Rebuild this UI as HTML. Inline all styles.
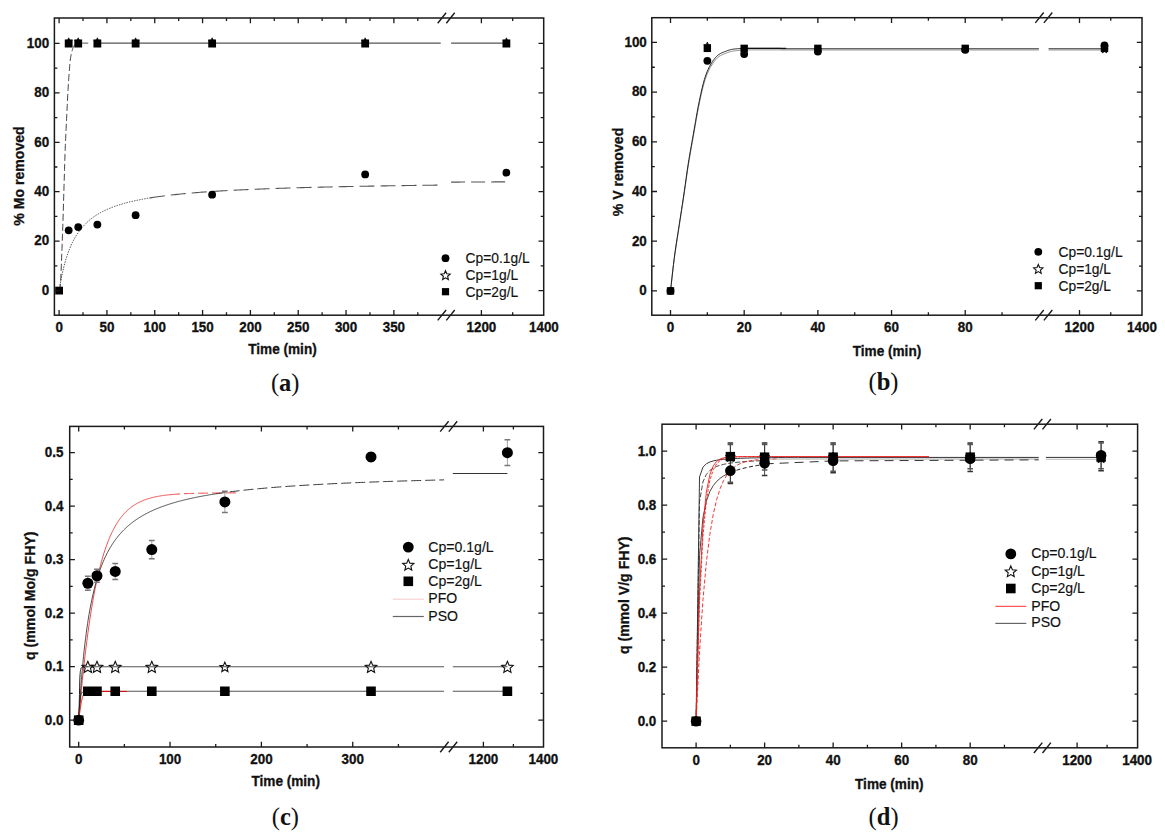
<!DOCTYPE html><html><head><meta charset="utf-8"><title>Kinetics</title><style>
html,body{margin:0;padding:0;background:#fff;width:1165px;height:838px;overflow:hidden}
svg{display:block}
.tl{font-family:"Liberation Sans",sans-serif;font-weight:bold;font-size:13.4px;fill:#111;stroke:#111;stroke-width:0.3px}
.at{font-family:"Liberation Sans",sans-serif;font-weight:bold;font-size:13.6px;fill:#111;stroke:#111;stroke-width:0.3px}
.yt{font-family:"Liberation Sans",sans-serif;font-weight:bold;font-size:14.1px;fill:#111;stroke:#111;stroke-width:0.3px}
.lg{font-family:"Liberation Sans",sans-serif;font-size:13.6px;fill:#111;stroke:#111;stroke-width:0.15px}
.cap{font-family:"Liberation Serif",serif;font-size:24.5px;fill:#111}
</style></head><body>
<svg width="1165" height="838" viewBox="0 0 1165 838">
<rect width="1165" height="838" fill="#fff"/>
<path d="M59.1 290.6 L59.26 289.78 L59.42 289.17 L59.58 288.67 L59.74 288.2 L59.9 287.64 L60.06 286.92 L60.22 285.93 L60.38 284.58 L60.53 282.79 L60.69 280.44 L60.85 277.45 L61.01 273.93 L61.17 270 L61.33 265.81 L61.49 261.48 L61.65 257.14 L61.81 252.94 L61.97 248.76 L62.13 244.52 L62.29 240.21 L62.45 235.82 L62.61 231.33 L62.77 226.74 L62.93 222.04 L63.09 217.2 L63.24 212.16 L63.4 206.94 L63.56 201.61 L63.72 196.23 L63.88 190.87 L64.04 185.59 L64.2 180.35 L64.36 174.99 L64.52 169.6 L64.68 164.3 L64.84 159.16 L65 154.31 L65.16 149.82 L65.32 145.76 L65.48 142.03 L65.64 138.55 L65.8 135.19 L65.95 131.88 L66.11 128.5 L66.27 125.13 L66.43 121.84 L66.59 118.59 L66.75 115.38 L66.91 112.17 L67.07 108.96 L67.23 105.71 L67.39 102.39 L67.55 99.07 L67.71 95.82 L67.87 92.7 L68.03 89.81 L68.19 87.11 L68.35 84.57 L68.51 82.14 L68.67 79.82 L68.82 77.56 L68.98 75.34 L69.14 73.12 L69.3 70.91 L69.46 68.75 L69.62 66.69 L69.78 64.75 L69.94 62.99 L70.1 61.45 L70.26 60.09 L70.42 58.88 L70.58 57.8 L70.74 56.83 L70.9 55.95 L71.06 55.16 L71.22 54.43 L71.38 53.74 L71.53 53.09 L71.69 52.45 L71.85 51.82 L72.01 51.18 L72.17 50.57 L72.33 50.01 L72.49 49.49 L72.65 49 L72.81 48.54 L72.97 48.11 L73.13 47.71 L73.29 47.34 L73.45 46.99 L73.61 46.66 L73.77 46.34 L73.93 46.04 L74.09 45.76 L74.24 45.51 L74.4 45.28 L74.56 45.08 L74.72 44.91 L74.88 44.76 L75.04 44.63 L75.2 44.51 L75.36 44.41 L75.52 44.31 L75.68 44.23 L75.84 44.14 L76 44.06 L76.16 43.98 L76.32 43.89 L76.48 43.81 L76.64 43.75 L76.8 43.69 L76.95 43.64 L77.11 43.61 L77.27 43.58 L77.43 43.55 L77.59 43.52 L77.75 43.5 L77.91 43.47 L78.07 43.44 L78.23 43.4" fill="none" stroke="#444" stroke-width="1" stroke-dasharray="7 3"/>
<path d="M78.23 43.15 L97.36 43.15" fill="none" stroke="#777" stroke-width="1.1" stroke-dasharray="0 4 6 30"/>
<path d="M97.36 43.15 L440.74 43.15" fill="none" stroke="#555" stroke-width="1.1"/>
<path d="M451.09 43.15 L506.4 43.15" fill="none" stroke="#555" stroke-width="1.1"/>
<path d="M59.1 290.6 L59.71 286.85 L60.31 283.35 L60.92 280.07 L61.52 276.99 L62.13 274.09 L62.73 271.37 L63.34 268.8 L63.95 266.37 L64.55 264.07 L65.16 261.89 L65.76 259.82 L66.37 257.85 L66.98 255.98 L67.58 254.19 L68.19 252.49 L68.79 250.87 L69.4 249.31 L70 247.83 L70.61 246.4 L71.22 245.04 L71.82 243.73 L72.43 242.47 L73.03 241.26 L73.64 240.1 L74.24 238.98 L74.85 237.9 L75.46 236.87 L76.06 235.86 L76.67 234.9 L77.27 233.96 L77.88 233.06 L78.49 232.19 L79.09 231.34 L79.7 230.53 L80.3 229.73 L80.91 228.97 L81.51 228.22 L82.12 227.5 L82.73 226.8 L83.33 226.12 L83.94 225.46 L84.54 224.82 L85.15 224.2 L85.75 223.59 L86.36 223.01 L86.97 222.43 L87.57 221.87 L88.18 221.33 L88.78 220.8 L89.39 220.29 L89.99 219.78 L90.6 219.29 L91.21 218.81 L91.81 218.35 L92.42 217.89 L93.02 217.45 L93.63 217.01 L94.24 216.59 L94.84 216.17 L95.45 215.77 L96.05 215.37 L96.66 214.98 L97.26 214.6 L97.87 214.23 L98.48 213.87 L99.08 213.52 L99.69 213.17 L100.29 212.83 L100.9 212.49 L101.5 212.17 L102.11 211.85 L102.72 211.53 L103.32 211.23 L103.93 210.92 L104.53 210.63 L105.14 210.34 L105.75 210.05 L106.35 209.78 L106.96 209.5 L107.56 209.23 L108.17 208.97 L108.77 208.71 L109.38 208.45 L109.99 208.2 L110.59 207.96 L111.2 207.72 L111.8 207.48 L112.41 207.25 L113.01 207.02 L113.62 206.79 L114.23 206.57 L114.83 206.35 L115.44 206.14 L116.04 205.93 L116.65 205.72 L117.26 205.52 L117.86 205.32 L118.47 205.12 L119.07 204.92 L119.68 204.73 L120.28 204.55 L120.89 204.36 L121.5 204.18 L122.1 204 L122.71 203.82 L123.31 203.64 L123.92 203.47 L124.52 203.3 L125.13 203.14 L125.74 202.97 L126.34 202.81 L126.95 202.65 L127.55 202.49 L128.16 202.34 L128.77 202.18 L129.37 202.03 L129.98 201.88 L130.58 201.74 L131.19 201.59 L131.79 201.45 L132.4 201.31 L133.01 201.17 L133.61 201.03 L134.22 200.89 L134.82 200.76 L135.43 200.63 L136.03 200.5 L136.64 200.37 L137.25 200.24 L137.85 200.12 L138.46 199.99 L139.06 199.87 L139.67 199.75 L140.27 199.63 L140.88 199.51 L141.49 199.39 L142.09 199.28 L142.7 199.16 L143.3 199.05 L143.91 198.94 L144.52 198.83 L145.12 198.72 L145.73 198.62 L146.33 198.51 L146.94 198.41 L147.54 198.3 L148.15 198.2 L148.76 198.1 L149.36 198 L149.97 197.9" fill="none" stroke="#333" stroke-width="0.9" stroke-dasharray="1.4 1.2"/>
<path d="M149.97 197.9 L151.91 197.59 L153.84 197.29 L155.78 197 L157.72 196.72 L159.66 196.45 L161.6 196.19 L163.54 195.94 L165.48 195.7 L167.41 195.46 L169.35 195.23 L171.29 195.01 L173.23 194.79 L175.17 194.58 L177.11 194.38 L179.05 194.18 L180.98 193.99 L182.92 193.8 L184.86 193.62 L186.8 193.44 L188.74 193.27 L190.68 193.1 L192.61 192.93 L194.55 192.77 L196.49 192.62 L198.43 192.47 L200.37 192.32 L202.31 192.17 L204.25 192.03 L206.18 191.89 L208.12 191.76 L210.06 191.63 L212 191.5 L213.94 191.37 L215.88 191.25 L217.82 191.13 L219.75 191.01 L221.69 190.9 L223.63 190.79 L225.57 190.68 L227.51 190.57 L229.45 190.46 L231.38 190.36 L233.32 190.26 L235.26 190.16 L237.2 190.06 L239.14 189.96 L241.08 189.87 L243.02 189.78 L244.95 189.69 L246.89 189.6 L248.83 189.51 L250.77 189.43 L252.71 189.35 L254.65 189.26 L256.59 189.18 L258.52 189.1 L260.46 189.03 L262.4 188.95 L264.34 188.88 L266.28 188.8 L268.22 188.73 L270.15 188.66 L272.09 188.59 L274.03 188.52 L275.97 188.45 L277.91 188.39 L279.85 188.32 L281.79 188.26 L283.72 188.19 L285.66 188.13 L287.6 188.07 L289.54 188.01 L291.48 187.95 L293.42 187.89 L295.36 187.83 L297.29 187.78 L299.23 187.72 L301.17 187.66 L303.11 187.61 L305.05 187.56 L306.99 187.5 L308.93 187.45 L310.86 187.4 L312.8 187.35 L314.74 187.3 L316.68 187.25 L318.62 187.2 L320.56 187.16 L322.49 187.11 L324.43 187.06 L326.37 187.02 L328.31 186.97 L330.25 186.93 L332.19 186.88 L334.13 186.84 L336.06 186.8 L338 186.75 L339.94 186.71 L341.88 186.67 L343.82 186.63 L345.76 186.59 L347.7 186.55 L349.63 186.51 L351.57 186.47 L353.51 186.44 L355.45 186.4 L357.39 186.36 L359.33 186.32 L361.26 186.29 L363.2 186.25 L365.14 186.22 L367.08 186.18 L369.02 186.15 L370.96 186.11 L372.9 186.08 L374.83 186.05 L376.77 186.01 L378.71 185.98 L380.65 185.95 L382.59 185.92 L384.53 185.88 L386.47 185.85 L388.4 185.82 L390.34 185.79 L392.28 185.76 L394.22 185.73 L396.16 185.7 L398.1 185.67 L400.03 185.64 L401.97 185.62 L403.91 185.59 L405.85 185.56 L407.79 185.53 L409.73 185.51 L411.67 185.48 L413.6 185.45 L415.54 185.42 L417.48 185.4 L419.42 185.37 L421.36 185.35 L423.3 185.32 L425.24 185.3 L427.17 185.27 L429.11 185.25 L431.05 185.22 L432.99 185.2 L434.93 185.17 L436.87 185.15 L438.8 185.13 L440.74 185.1" fill="none" stroke="#555" stroke-width="1.1" stroke-dasharray="15 6"/>
<path d="M451.09 182.12 L452.47 182.11 L453.85 182.1 L455.24 182.1 L456.62 182.09 L458 182.08 L459.38 182.08 L460.77 182.07 L462.15 182.06 L463.53 182.06 L464.92 182.05 L466.3 182.04 L467.68 182.04 L469.06 182.03 L470.45 182.03 L471.83 182.02 L473.21 182.01 L474.6 182.01 L475.98 182 L477.36 181.99 L478.74 181.99 L480.13 181.98 L481.51 181.98 L482.89 181.97 L484.27 181.96 L485.66 181.96 L487.04 181.95 L488.42 181.95 L489.81 181.94 L491.19 181.94 L492.57 181.93 L493.95 181.92 L495.34 181.92 L496.72 181.91 L498.1 181.91 L499.49 181.9 L500.87 181.9 L502.25 181.89 L503.63 181.89 L505.02 181.88 L506.4 181.88" fill="none" stroke="#555" stroke-width="1.1" stroke-dasharray="14 6"/>
<circle cx="68.67" cy="230.28" r="3.9" fill="#000"/>
<circle cx="78.23" cy="227.07" r="3.9" fill="#000"/>
<circle cx="97.36" cy="224.6" r="3.9" fill="#000"/>
<circle cx="135.62" cy="215.2" r="3.9" fill="#000"/>
<circle cx="212.14" cy="194.69" r="3.9" fill="#000"/>
<circle cx="365.18" cy="174.42" r="3.9" fill="#000"/>
<circle cx="506.4" cy="172.69" r="3.9" fill="#000"/>
<polygon points="68.67,37.83 69.69,40.22 72.28,40.46 70.33,42.17 70.9,44.71 68.67,43.38 66.43,44.71 67,42.17 65.05,40.46 67.64,40.22" fill="#000" stroke="#111" stroke-width="0.8" stroke-linejoin="miter"/>
<polygon points="78.23,37.83 79.26,40.22 81.84,40.46 79.89,42.17 80.46,44.71 78.23,43.38 76,44.71 76.57,42.17 74.62,40.46 77.2,40.22" fill="#000" stroke="#111" stroke-width="0.8" stroke-linejoin="miter"/>
<polygon points="97.36,37.83 98.39,40.22 100.97,40.46 99.02,42.17 99.59,44.71 97.36,43.38 95.13,44.71 95.7,42.17 93.75,40.46 96.33,40.22" fill="#000" stroke="#111" stroke-width="0.8" stroke-linejoin="miter"/>
<polygon points="135.62,37.83 136.65,40.22 139.23,40.46 137.28,42.17 137.85,44.71 135.62,43.38 133.39,44.71 133.96,42.17 132.01,40.46 134.59,40.22" fill="#000" stroke="#111" stroke-width="0.8" stroke-linejoin="miter"/>
<polygon points="212.14,37.83 213.17,40.22 215.75,40.46 213.8,42.17 214.37,44.71 212.14,43.38 209.91,44.71 210.48,42.17 208.53,40.46 211.11,40.22" fill="#000" stroke="#111" stroke-width="0.8" stroke-linejoin="miter"/>
<polygon points="365.18,37.83 366.21,40.22 368.79,40.46 366.84,42.17 367.41,44.71 365.18,43.38 362.95,44.71 363.52,42.17 361.57,40.46 364.15,40.22" fill="#000" stroke="#111" stroke-width="0.8" stroke-linejoin="miter"/>
<polygon points="506.4,37.83 507.43,40.22 510.01,40.46 508.06,42.17 508.63,44.71 506.4,43.38 504.17,44.71 504.74,42.17 502.79,40.46 505.37,40.22" fill="#000" stroke="#111" stroke-width="0.8" stroke-linejoin="miter"/>
<path d="M64.77 39.62h7.8v7.8h-7.8zM74.33 39.62h7.8v7.8h-7.8zM93.46 39.62h7.8v7.8h-7.8zM131.72 39.62h7.8v7.8h-7.8zM208.24 39.62h7.8v7.8h-7.8zM361.28 39.62h7.8v7.8h-7.8zM502.5 39.62h7.8v7.8h-7.8z" fill="#000"/>
<rect x="55.2" y="286.7" width="7.8" height="7.8" fill="#000"/>
<path d="M59.1 315.2v-5.2M59.1 18v5.2M106.93 315.2v-5.2M106.93 18v5.2M154.75 315.2v-5.2M154.75 18v5.2M202.57 315.2v-5.2M202.57 18v5.2M250.4 315.2v-5.2M250.4 18v5.2M298.23 315.2v-5.2M298.23 18v5.2M346.05 315.2v-5.2M346.05 18v5.2M393.88 315.2v-5.2M393.88 18v5.2M481.4 315.2v-5.2M481.4 18v5.2M83.01 315.2v-3M83.01 18v3M130.84 315.2v-3M130.84 18v3M178.66 315.2v-3M178.66 18v3M226.49 315.2v-3M226.49 18v3M274.31 315.2v-3M274.31 18v3M322.14 315.2v-3M322.14 18v3M369.96 315.2v-3M369.96 18v3M417.79 315.2v-3M417.79 18v3M512.65 315.2v-3M512.65 18v3M54.4 290.6h5.2M543.7 290.6h-5.2M54.4 241.16h5.2M543.7 241.16h-5.2M54.4 191.72h5.2M543.7 191.72h-5.2M54.4 142.28h5.2M543.7 142.28h-5.2M54.4 92.84h5.2M543.7 92.84h-5.2M54.4 43.4h5.2M543.7 43.4h-5.2M54.4 265.88h3M543.7 265.88h-3M54.4 216.44h3M543.7 216.44h-3M54.4 167h3M543.7 167h-3M54.4 117.56h3M543.7 117.56h-3M54.4 68.12h3M543.7 68.12h-3" stroke="#1a1a1a" stroke-width="1.3" fill="none"/>
<rect x="54.4" y="18" width="489.3" height="297.2" fill="none" stroke="#1a1a1a" stroke-width="1.5"/>
<path d="M437.7 23.2l8.4 -10.4M446.3 23.2l8.4 -10.4" stroke="#1a1a1a" stroke-width="1.4" fill="none"/>
<path d="M437.7 320.4l8.4 -10.4M446.3 320.4l8.4 -10.4" stroke="#1a1a1a" stroke-width="1.4" fill="none"/>
<text class="tl" text-anchor="middle" transform="translate(59.1 332.3) scale(1 1.08)">0</text>
<text class="tl" text-anchor="middle" transform="translate(106.93 332.3) scale(1 1.08)">50</text>
<text class="tl" text-anchor="middle" transform="translate(154.75 332.3) scale(1 1.08)">100</text>
<text class="tl" text-anchor="middle" transform="translate(202.57 332.3) scale(1 1.08)">150</text>
<text class="tl" text-anchor="middle" transform="translate(250.4 332.3) scale(1 1.08)">200</text>
<text class="tl" text-anchor="middle" transform="translate(298.23 332.3) scale(1 1.08)">250</text>
<text class="tl" text-anchor="middle" transform="translate(346.05 332.3) scale(1 1.08)">300</text>
<text class="tl" text-anchor="middle" transform="translate(393.88 332.3) scale(1 1.08)">350</text>
<text class="tl" text-anchor="middle" transform="translate(481.4 332.3) scale(1 1.08)">1200</text>
<text class="tl" text-anchor="middle" transform="translate(543.9 332.3) scale(1 1.08)">1400</text>
<text class="tl" text-anchor="end" transform="translate(49.2 294.9) scale(1 1.08)">0</text>
<text class="tl" text-anchor="end" transform="translate(49.2 245.46) scale(1 1.08)">20</text>
<text class="tl" text-anchor="end" transform="translate(49.2 196.02) scale(1 1.08)">40</text>
<text class="tl" text-anchor="end" transform="translate(49.2 146.58) scale(1 1.08)">60</text>
<text class="tl" text-anchor="end" transform="translate(49.2 97.14) scale(1 1.08)">80</text>
<text class="tl" text-anchor="end" transform="translate(49.2 47.7) scale(1 1.08)">100</text>
<text class="at" text-anchor="middle" transform="translate(282.5 354.3) scale(1 1.08)">Time (min)</text>
<text class="yt" text-anchor="middle" transform="translate(19 176) rotate(-90)" x="0" y="4.7">% Mo removed</text>
<text x="285.2" y="390.5" class="cap" text-anchor="middle">(<tspan font-weight="bold">a</tspan>)</text>
<circle cx="445.5" cy="258.2" r="3.9" fill="#000"/>
<text class="lg" style="font-size:13.8px" transform="translate(465.6 262.9) scale(1 1.08)">Cp=0.1g/L</text>
<polygon points="445.5,270.69 446.82,273.76 450.16,274.07 447.64,276.28 448.38,279.55 445.5,277.84 442.62,279.55 443.36,276.28 440.84,274.07 444.18,273.76" fill="none" stroke="#111" stroke-width="1.1" stroke-linejoin="miter"/>
<text class="lg" style="font-size:13.8px" transform="translate(465.6 280.1) scale(1 1.08)">Cp=1g/L</text>
<rect x="441.9" y="288.1" width="7.2" height="7.2" fill="#000"/>
<text class="lg" style="font-size:13.8px" transform="translate(465.6 296.5) scale(1 1.08)">Cp=2g/L</text>
<path d="M670.5 290.9 L671.24 284.53 L671.97 278.05 L672.71 271.62 L673.45 265.41 L674.18 259.59 L674.92 254.2 L675.66 249.13 L676.39 244.28 L677.13 239.57 L677.87 234.91 L678.6 230.19 L679.34 225.36 L680.08 220.55 L680.82 215.77 L681.55 211 L682.29 206.2 L683.03 201.37 L683.76 196.47 L684.5 191.44 L685.24 186.29 L685.97 181.1 L686.71 175.95 L687.45 170.94 L688.18 166.15 L688.92 161.59 L689.66 157.2 L690.39 152.93 L691.13 148.75 L691.87 144.62 L692.6 140.51 L693.34 136.38 L694.08 132.19 L694.81 127.95 L695.55 123.69 L696.29 119.46 L697.02 115.32 L697.76 111.3 L698.5 107.45 L699.24 103.82 L699.97 100.31 L700.71 96.9 L701.45 93.6 L702.18 90.44 L702.92 87.45 L703.66 84.64 L704.39 82.04 L705.13 79.67 L705.87 77.52 L706.6 75.51 L707.34 73.66 L708.08 71.94 L708.81 70.34 L709.55 68.86 L710.29 67.48 L711.02 66.2 L711.76 65 L712.5 63.87 L713.23 62.79 L713.97 61.77 L714.71 60.79 L715.44 59.87 L716.18 59.04 L716.92 58.29 L717.66 57.62 L718.39 57.02 L719.13 56.48 L719.87 56 L720.6 55.57 L721.34 55.17 L722.08 54.82 L722.81 54.48 L723.55 54.17 L724.29 53.88 L725.02 53.58 L725.76 53.29 L726.5 52.99 L727.23 52.68 L727.97 52.4 L728.71 52.15 L729.44 51.92 L730.18 51.72 L730.92 51.54 L731.65 51.38 L732.39 51.24 L733.13 51.11 L733.86 51 L734.6 50.9 L735.34 50.81 L736.08 50.72 L736.81 50.64 L737.55 50.56 L738.29 50.48 L739.02 50.4 L739.76 50.31 L740.5 50.23 L741.23 50.16 L741.97 50.1 L742.71 50.05 L743.44 50.01 L744.18 49.97 L744.92 49.94 L745.65 49.92 L746.39 49.9 L747.13 49.88 L747.86 49.87 L748.6 49.86 L749.34 49.86 L750.07 49.86 L750.81 49.86 L751.55 49.85 L752.28 49.85 L753.02 49.85 L753.76 49.85 L754.5 49.85 L755.23 49.85 L755.97 49.85 L756.71 49.85 L757.44 49.85 L758.18 49.85 L758.92 49.85 L759.65 49.85 L760.39 49.85 L761.13 49.85 L761.86 49.85 L762.6 49.85 L763.34 49.85 L764.07 49.85 L764.81 49.85 L765.55 49.85 L766.28 49.85 L767.02 49.85 L767.76 49.85 L768.49 49.85 L769.23 49.85 L769.97 49.85 L770.7 49.85 L771.44 49.85 L772.18 49.85 L772.92 49.85 L773.65 49.85 L774.39 49.85 L775.13 49.85 L775.86 49.85 L776.6 49.85 L777.34 49.85 L778.07 49.85 L778.81 49.85 L779.55 49.85 L780.28 49.85 L781.02 49.85" fill="none" stroke="#888" stroke-width="1"/>
<path d="M670.5 290.9 L671.24 284.32 L671.97 277.62 L672.71 270.98 L673.45 264.58 L674.18 258.59 L674.92 253.08 L675.66 247.91 L676.39 242.98 L677.13 238.2 L677.87 233.48 L678.6 228.72 L679.34 223.85 L680.08 219.04 L680.82 214.27 L681.55 209.51 L682.29 204.73 L683.03 199.9 L683.76 194.98 L684.5 189.89 L685.24 184.66 L685.97 179.37 L686.71 174.13 L687.45 169.03 L688.18 164.16 L688.92 159.55 L689.66 155.12 L690.39 150.81 L691.13 146.6 L691.87 142.45 L692.6 138.31 L693.34 134.15 L694.08 129.93 L694.81 125.65 L695.55 121.35 L696.29 117.09 L697.02 112.9 L697.76 108.85 L698.5 104.98 L699.24 101.33 L699.97 97.81 L700.71 94.39 L701.45 91.09 L702.18 87.93 L702.92 84.94 L703.66 82.14 L704.39 79.55 L705.13 77.19 L705.87 75.04 L706.6 73.05 L707.34 71.21 L708.08 69.51 L708.81 67.94 L709.55 66.48 L710.29 65.12 L711.02 63.86 L711.76 62.68 L712.5 61.57 L713.23 60.52 L713.97 59.52 L714.71 58.55 L715.44 57.65 L716.18 56.84 L716.92 56.11 L717.66 55.45 L718.39 54.87 L719.13 54.34 L719.87 53.88 L720.6 53.46 L721.34 53.08 L722.08 52.73 L722.81 52.42 L723.55 52.12 L724.29 51.84 L725.02 51.56 L725.76 51.28 L726.5 51 L727.23 50.7 L727.97 50.43 L728.71 50.19 L729.44 49.97 L730.18 49.77 L730.92 49.6 L731.65 49.45 L732.39 49.31 L733.13 49.19 L733.86 49.09 L734.6 49 L735.34 48.92 L736.08 48.85 L736.81 48.79 L737.55 48.73 L738.29 48.68 L739.02 48.64 L739.76 48.59 L740.5 48.55 L741.23 48.52 L741.97 48.49 L742.71 48.46 L743.44 48.44 L744.18 48.42 L744.92 48.4 L745.65 48.39 L746.39 48.38 L747.13 48.38 L747.86 48.37 L748.6 48.37 L749.34 48.37 L750.07 48.36 L750.81 48.36 L751.55 48.36 L752.28 48.36 L753.02 48.36 L753.76 48.36 L754.5 48.36 L755.23 48.36 L755.97 48.36 L756.71 48.36 L757.44 48.36 L758.18 48.36 L758.92 48.36 L759.65 48.36 L760.39 48.36 L761.13 48.36 L761.86 48.36 L762.6 48.36 L763.34 48.36 L764.07 48.36 L764.81 48.36 L765.55 48.36 L766.28 48.36 L767.02 48.36 L767.76 48.36 L768.49 48.36 L769.23 48.36 L769.97 48.36 L770.7 48.36 L771.44 48.36 L772.18 48.36 L772.92 48.36 L773.65 48.36 L774.39 48.36 L775.13 48.36 L775.86 48.36 L776.6 48.36 L777.34 48.36 L778.07 48.36 L778.81 48.36 L779.55 48.36 L780.28 48.36 L781.02 48.36" fill="none" stroke="#222" stroke-width="1"/>
<path d="M781.02 49.85 L1038.9 49.85" fill="none" stroke="#999" stroke-width="1.2"/>
<path d="M781.02 48.61 L1038.9 48.61" fill="none" stroke="#555" stroke-width="1"/>
<path d="M744.18 48.36 L786.18 48.36" fill="none" stroke="#111" stroke-width="1.4"/>
<path d="M1048.56 49.85 L1104.5 49.85" fill="none" stroke="#999" stroke-width="1.2"/>
<path d="M1048.56 48.61 L1104.5 48.61" fill="none" stroke="#555" stroke-width="1"/>
<circle cx="670.5" cy="290.9" r="3.9" fill="#000"/>
<circle cx="707.34" cy="60.79" r="3.9" fill="#000"/>
<circle cx="744.18" cy="54.08" r="3.9" fill="#000"/>
<circle cx="817.86" cy="51.59" r="3.9" fill="#000"/>
<circle cx="965.22" cy="49.85" r="3.9" fill="#000"/>
<circle cx="1104.5" cy="45.38" r="3.9" fill="#000"/>
<polygon points="707.34,42.04 708.37,44.42 710.95,44.66 709,46.38 709.57,48.91 707.34,47.59 705.11,48.91 705.68,46.38 703.73,44.66 706.31,44.42" fill="#000" stroke="#111" stroke-width="0.8" stroke-linejoin="miter"/>
<polygon points="744.18,46.01 745.21,48.4 747.79,48.64 745.84,50.35 746.41,52.89 744.18,51.56 741.95,52.89 742.52,50.35 740.57,48.64 743.15,48.4" fill="#000" stroke="#111" stroke-width="0.8" stroke-linejoin="miter"/>
<polygon points="817.86,46.01 818.89,48.4 821.47,48.64 819.52,50.35 820.09,52.89 817.86,51.56 815.63,52.89 816.2,50.35 814.25,48.64 816.83,48.4" fill="#000" stroke="#111" stroke-width="0.8" stroke-linejoin="miter"/>
<polygon points="965.22,46.01 966.25,48.4 968.83,48.64 966.88,50.35 967.45,52.89 965.22,51.56 962.99,52.89 963.56,50.35 961.61,48.64 964.19,48.4" fill="#000" stroke="#111" stroke-width="0.8" stroke-linejoin="miter"/>
<polygon points="1104.5,46.01 1105.53,48.4 1108.11,48.64 1106.16,50.35 1106.73,52.89 1104.5,51.56 1102.27,52.89 1102.84,50.35 1100.89,48.64 1103.47,48.4" fill="#000" stroke="#111" stroke-width="0.8" stroke-linejoin="miter"/>
<rect x="666.8" y="287.2" width="7.4" height="7.4" fill="#000"/>
<rect x="703.64" y="44.66" width="7.4" height="7.4" fill="#000"/>
<rect x="740.48" y="44.66" width="7.4" height="7.4" fill="#000"/>
<rect x="814.16" y="44.66" width="7.4" height="7.4" fill="#000"/>
<rect x="961.52" y="44.66" width="7.4" height="7.4" fill="#000"/>
<rect x="1100.8" y="44.66" width="7.4" height="7.4" fill="#000"/>
<path d="M670.5 315.2v-5.2M670.5 17.7v5.2M744.18 315.2v-5.2M744.18 17.7v5.2M817.86 315.2v-5.2M817.86 17.7v5.2M891.54 315.2v-5.2M891.54 17.7v5.2M965.22 315.2v-5.2M965.22 17.7v5.2M1079.5 315.2v-5.2M1079.5 17.7v5.2M707.34 315.2v-3M707.34 17.7v3M781.02 315.2v-3M781.02 17.7v3M854.7 315.2v-3M854.7 17.7v3M928.38 315.2v-3M928.38 17.7v3M1002.06 315.2v-3M1002.06 17.7v3M1110.75 315.2v-3M1110.75 17.7v3M651.8 290.9h5.2M1142 290.9h-5.2M651.8 241.2h5.2M1142 241.2h-5.2M651.8 191.5h5.2M1142 191.5h-5.2M651.8 141.8h5.2M1142 141.8h-5.2M651.8 92.1h5.2M1142 92.1h-5.2M651.8 42.4h5.2M1142 42.4h-5.2M651.8 266.05h3M1142 266.05h-3M651.8 216.35h3M1142 216.35h-3M651.8 166.65h3M1142 166.65h-3M651.8 116.95h3M1142 116.95h-3M651.8 67.25h3M1142 67.25h-3" stroke="#1a1a1a" stroke-width="1.3" fill="none"/>
<rect x="651.8" y="17.7" width="490.2" height="297.5" fill="none" stroke="#1a1a1a" stroke-width="1.5"/>
<path d="M1035.3 22.9l8.4 -10.4M1043.9 22.9l8.4 -10.4" stroke="#1a1a1a" stroke-width="1.4" fill="none"/>
<path d="M1035.3 320.4l8.4 -10.4M1043.9 320.4l8.4 -10.4" stroke="#1a1a1a" stroke-width="1.4" fill="none"/>
<text class="tl" text-anchor="middle" transform="translate(670.5 332.3) scale(1 1.08)">0</text>
<text class="tl" text-anchor="middle" transform="translate(744.18 332.3) scale(1 1.08)">20</text>
<text class="tl" text-anchor="middle" transform="translate(817.86 332.3) scale(1 1.08)">40</text>
<text class="tl" text-anchor="middle" transform="translate(891.54 332.3) scale(1 1.08)">60</text>
<text class="tl" text-anchor="middle" transform="translate(965.22 332.3) scale(1 1.08)">80</text>
<text class="tl" text-anchor="middle" transform="translate(1079.5 332.3) scale(1 1.08)">1200</text>
<text class="tl" text-anchor="middle" transform="translate(1142 332.3) scale(1 1.08)">1400</text>
<text class="tl" text-anchor="end" transform="translate(646.8 295.2) scale(1 1.08)">0</text>
<text class="tl" text-anchor="end" transform="translate(646.8 245.5) scale(1 1.08)">20</text>
<text class="tl" text-anchor="end" transform="translate(646.8 195.8) scale(1 1.08)">40</text>
<text class="tl" text-anchor="end" transform="translate(646.8 146.1) scale(1 1.08)">60</text>
<text class="tl" text-anchor="end" transform="translate(646.8 96.4) scale(1 1.08)">80</text>
<text class="tl" text-anchor="end" transform="translate(646.8 46.7) scale(1 1.08)">100</text>
<text class="at" text-anchor="middle" transform="translate(887 355.5) scale(1 1.08)">Time (min)</text>
<text class="yt" text-anchor="middle" transform="translate(618.4 172) rotate(-90)" x="0" y="4.7">% V removed</text>
<text x="883.5" y="390.4" class="cap" text-anchor="middle">(<tspan font-weight="bold">b</tspan>)</text>
<circle cx="1038.3" cy="251.8" r="3.9" fill="#000"/>
<text class="lg" style="font-size:13.8px" transform="translate(1058.5 256.6) scale(1 1.08)">Cp=0.1g/L</text>
<polygon points="1038.3,264.49 1039.62,267.56 1042.96,267.87 1040.44,270.08 1041.18,273.35 1038.3,271.64 1035.42,273.35 1036.16,270.08 1033.64,267.87 1036.98,267.56" fill="none" stroke="#111" stroke-width="1.1" stroke-linejoin="miter"/>
<text class="lg" style="font-size:13.8px" transform="translate(1058.5 274.1) scale(1 1.08)">Cp=1g/L</text>
<rect x="1034.7" y="282.1" width="7.2" height="7.2" fill="#000"/>
<text class="lg" style="font-size:13.8px" transform="translate(1058.5 290.5) scale(1 1.08)">Cp=2g/L</text>
<path d="M78.7 720.2 L79.16 714.81 L79.61 709.54 L80.07 704.4 L80.53 699.39 L80.98 694.49 L81.44 689.71 L81.9 685.04 L82.35 680.48 L82.81 676.03 L83.27 671.68 L83.72 667.44 L84.18 663.3 L84.64 659.26 L85.09 655.31 L85.55 651.46 L86.01 647.7 L86.46 644.02 L86.92 640.44 L87.38 636.94 L87.84 633.52 L88.29 630.18 L88.75 626.93 L89.21 623.75 L89.66 620.64 L90.12 617.61 L90.58 614.65 L91.03 611.76 L91.49 608.94 L91.95 606.19 L92.4 603.5 L92.86 600.88 L93.32 598.31 L93.77 595.81 L94.23 593.37 L94.69 590.99 L95.14 588.66 L95.6 586.38 L96.06 584.17 L96.51 582 L96.97 579.89 L97.43 577.82 L97.88 575.81 L98.34 573.84 L98.8 571.92 L99.25 570.04 L99.71 568.21 L100.17 566.42 L100.62 564.68 L101.08 562.97 L101.54 561.31 L101.99 559.68 L102.45 558.1 L102.91 556.55 L103.36 555.04 L103.82 553.56 L104.28 552.12 L104.73 550.72 L105.19 549.35 L105.65 548.01 L106.11 546.7 L106.56 545.42 L107.02 544.17 L107.48 542.95 L107.93 541.77 L108.39 540.6 L108.85 539.47 L109.3 538.37 L109.76 537.29 L110.22 536.23 L110.67 535.2 L111.13 534.2 L111.59 533.22 L112.04 532.26 L112.5 531.32 L112.96 530.41 L113.41 529.52 L113.87 528.65 L114.33 527.8 L114.78 526.97 L115.24 526.16 L115.7 525.37 L116.15 524.6 L116.61 523.84 L117.07 523.11 L117.52 522.39 L117.98 521.69 L118.44 521 L118.89 520.34 L119.35 519.68 L119.81 519.05 L120.26 518.43 L120.72 517.82 L121.18 517.23 L121.63 516.65 L122.09 516.08 L122.55 515.53 L123 514.99 L123.46 514.47 L123.92 513.95 L124.38 513.45 L124.83 512.96 L125.29 512.49 L125.75 512.02 L126.2 511.56 L126.66 511.12 L127.12 510.69 L127.57 510.26 L128.03 509.85 L128.49 509.44 L128.94 509.05 L129.4 508.67 L129.86 508.29 L130.31 507.92 L130.77 507.57 L131.23 507.22 L131.68 506.87 L132.14 506.54 L132.6 506.22 L133.05 505.9 L133.51 505.59 L133.97 505.29 L134.42 504.99 L134.88 504.7 L135.34 504.42 L135.79 504.15 L136.25 503.88 L136.71 503.61 L137.16 503.36 L137.62 503.11 L138.08 502.87 L138.53 502.63 L138.99 502.39 L139.45 502.17 L139.9 501.95 L140.36 501.73 L140.82 501.52 L141.27 501.31 L141.73 501.11 L142.19 500.91 L142.65 500.72 L143.1 500.54 L143.56 500.35 L144.02 500.17 L144.47 500 L144.93 499.83 L145.39 499.66 L145.84 499.5 L146.3 499.34 L146.76 499.19 L147.21 499.04 L147.67 498.89 L148.13 498.75 L148.58 498.61 L149.04 498.47 L149.5 498.34 L149.95 498.2 L150.41 498.08 L150.87 497.95 L151.32 497.83 L151.78 497.71 L152.24 497.6 L152.69 497.48 L153.15 497.37 L153.61 497.26 L154.06 497.16 L154.52 497.06 L154.98 496.96 L155.43 496.86 L155.89 496.76 L156.35 496.67 L156.8 496.58 L157.26 496.49 L157.72 496.4 L158.17 496.32 L158.63 496.23 L159.09 496.15 L159.54 496.07 L160 496 L160.46 495.92 L160.92 495.85 L161.37 495.78 L161.83 495.71 L162.29 495.64 L162.74 495.57 L163.2 495.51 L163.66 495.44 L164.11 495.38 L164.57 495.32 L165.03 495.26 L165.48 495.2 L165.94 495.15 L166.4 495.09 L166.85 495.04 L167.31 494.99 L167.77 494.93 L168.22 494.88 L168.68 494.84 L169.14 494.79 L169.59 494.74 L170.05 494.7" fill="none" stroke="#e33" stroke-width="0.9"/>
<path d="M170.05 494.7 L171.19 494.59 L172.33 494.48 L173.48 494.39 L174.62 494.3 L175.76 494.21 L176.9 494.13 L178.04 494.05 L179.19 493.98 L180.33 493.92 L181.47 493.85 L182.61 493.79 L183.75 493.74 L184.89 493.68 L186.04 493.63 L187.18 493.59 L188.32 493.54 L189.46 493.5 L190.6 493.46 L191.75 493.42 L192.89 493.39 L194.03 493.36 L195.17 493.32 L196.31 493.3 L197.45 493.27 L198.6 493.24 L199.74 493.22 L200.88 493.2 L202.02 493.17 L203.16 493.15 L204.31 493.13 L205.45 493.12 L206.59 493.1 L207.73 493.08 L208.87 493.07 L210.02 493.05 L211.16 493.04 L212.3 493.03 L213.44 493.02 L214.58 493.01 L215.73 492.99 L216.87 492.98 L218.01 492.98 L219.15 492.97 L220.29 492.96 L221.43 492.95 L222.58 492.94 L223.72 492.94 L224.86 492.93 L226 492.92 L227.14 492.92 L228.29 492.91 L229.43 492.91 L230.57 492.9 L231.71 492.9 L232.85 492.89 L234 492.89 L235.14 492.89 L236.28 492.88 L237.42 492.88 L238.56 492.88" fill="none" stroke="#e44" stroke-width="1" stroke-dasharray="10 4"/>
<path d="M78.7 720.2 L79.39 708.61 L80.07 698.04 L80.76 688.38 L81.44 679.5 L82.13 671.32 L82.81 663.75 L83.5 656.74 L84.18 650.21 L84.87 644.13 L85.55 638.45 L86.24 633.13 L86.92 628.13 L87.61 623.43 L88.29 619.01 L88.98 614.83 L89.66 610.88 L90.35 607.14 L91.03 603.6 L91.72 600.24 L92.4 597.04 L93.09 593.99 L93.77 591.09 L94.46 588.33 L95.14 585.68 L95.83 583.16 L96.51 580.74 L97.2 578.42 L97.88 576.2 L98.57 574.07 L99.25 572.02 L99.94 570.05 L100.62 568.16 L101.31 566.34 L101.99 564.58 L102.68 562.89 L103.36 561.26 L104.05 559.68 L104.73 558.16 L105.42 556.69 L106.11 555.27 L106.79 553.89 L107.48 552.56 L108.16 551.27 L108.85 550.02 L109.53 548.81 L110.22 547.63 L110.9 546.49 L111.59 545.39 L112.27 544.31 L112.96 543.27 L113.64 542.25 L114.33 541.26 L115.01 540.3 L115.7 539.37 L116.38 538.46 L117.07 537.57 L117.75 536.71 L118.44 535.87 L119.12 535.05 L119.81 534.25 L120.49 533.47 L121.18 532.7 L121.86 531.96 L122.55 531.23 L123.23 530.53 L123.92 529.83 L124.6 529.16 L125.29 528.5 L125.97 527.85 L126.66 527.22 L127.34 526.6 L128.03 525.99 L128.71 525.4 L129.4 524.82 L130.08 524.26 L130.77 523.7 L131.45 523.16 L132.14 522.62 L132.82 522.1 L133.51 521.59 L134.2 521.09 L134.88 520.59 L135.57 520.11 L136.25 519.64 L136.94 519.17 L137.62 518.72 L138.31 518.27 L138.99 517.83 L139.68 517.4 L140.36 516.98 L141.05 516.56 L141.73 516.15 L142.42 515.75 L143.1 515.36 L143.79 514.97 L144.47 514.59 L145.16 514.22 L145.84 513.85 L146.53 513.49 L147.21 513.13 L147.9 512.78 L148.58 512.44 L149.27 512.1 L149.95 511.77 L150.64 511.44 L151.32 511.12 L152.01 510.8 L152.69 510.49 L153.38 510.18 L154.06 509.87 L154.75 509.58 L155.43 509.28 L156.12 508.99 L156.8 508.71 L157.49 508.43 L158.17 508.15 L158.86 507.88 L159.54 507.61 L160.23 507.34 L160.92 507.08 L161.6 506.82 L162.29 506.57 L162.97 506.32 L163.66 506.07 L164.34 505.83 L165.03 505.59 L165.71 505.35 L166.4 505.12 L167.08 504.89 L167.77 504.66 L168.45 504.43 L169.14 504.21 L169.82 503.99 L170.51 503.78 L171.19 503.56 L171.88 503.35 L172.56 503.15 L173.25 502.94 L173.93 502.74 L174.62 502.54 L175.3 502.34 L175.99 502.15 L176.67 501.95 L177.36 501.76 L178.04 501.57 L178.73 501.39 L179.41 501.21 L180.1 501.02 L180.78 500.84 L181.47 500.67 L182.15 500.49 L182.84 500.32 L183.52 500.15 L184.21 499.98 L184.89 499.81 L185.58 499.65 L186.26 499.48 L186.95 499.32 L187.63 499.16 L188.32 499 L189.01 498.85 L189.69 498.69 L190.38 498.54 L191.06 498.39 L191.75 498.24 L192.43 498.09 L193.12 497.94 L193.8 497.8 L194.49 497.66 L195.17 497.51 L195.86 497.37 L196.54 497.23 L197.23 497.1 L197.91 496.96 L198.6 496.83 L199.28 496.69 L199.97 496.56 L200.65 496.43 L201.34 496.3 L202.02 496.17 L202.71 496.05 L203.39 495.92 L204.08 495.8 L204.76 495.67 L205.45 495.55 L206.13 495.43 L206.82 495.31 L207.5 495.19 L208.19 495.07 L208.87 494.96 L209.56 494.84 L210.24 494.73 L210.93 494.62 L211.61 494.51 L212.3 494.39 L212.98 494.28 L213.67 494.18 L214.35 494.07 L215.04 493.96 L215.73 493.86" fill="none" stroke="#222" stroke-width="0.8"/>
<path d="M215.73 493.86 L217.25 493.62 L218.77 493.4 L220.29 493.17 L221.81 492.96 L223.34 492.74 L224.86 492.53 L226.38 492.32 L227.91 492.12 L229.43 491.92 L230.95 491.73 L232.47 491.54 L234 491.35 L235.52 491.16 L237.04 490.98 L238.56 490.8 L240.08 490.63 L241.61 490.46 L243.13 490.29 L244.65 490.12 L246.18 489.96 L247.7 489.8 L249.22 489.64 L250.74 489.48 L252.26 489.33 L253.79 489.18 L255.31 489.03 L256.83 488.89 L258.36 488.74 L259.88 488.6 L261.4 488.46 L262.92 488.33 L264.44 488.19 L265.97 488.06 L267.49 487.93 L269.01 487.8 L270.54 487.67 L272.06 487.55 L273.58 487.42 L275.1 487.3 L276.62 487.18 L278.15 487.06 L279.67 486.95 L281.19 486.83 L282.71 486.72 L284.24 486.61 L285.76 486.5 L287.28 486.39 L288.81 486.28 L290.33 486.18 L291.85 486.07 L293.37 485.97 L294.9 485.87 L296.42 485.77 L297.94 485.67 L299.46 485.57 L300.98 485.47 L302.51 485.38 L304.03 485.29 L305.55 485.19 L307.07 485.1 L308.6 485.01 L310.12 484.92 L311.64 484.83 L313.17 484.75 L314.69 484.66 L316.21 484.58 L317.73 484.49 L319.25 484.41 L320.78 484.33 L322.3 484.25 L323.82 484.17 L325.34 484.09 L326.87 484.01 L328.39 483.93 L329.91 483.85 L331.44 483.78 L332.96 483.7 L334.48 483.63 L336 483.56 L337.53 483.49 L339.05 483.41 L340.57 483.34 L342.09 483.27 L343.62 483.2 L345.14 483.14 L346.66 483.07 L348.18 483 L349.7 482.94 L351.23 482.87 L352.75 482.81 L354.27 482.74 L355.8 482.68 L357.32 482.62 L358.84 482.55 L360.36 482.49 L361.88 482.43 L363.41 482.37 L364.93 482.31 L366.45 482.25 L367.97 482.19 L369.5 482.14 L371.02 482.08 L372.54 482.02 L374.06 481.97 L375.59 481.91 L377.11 481.86 L378.63 481.8 L380.15 481.75 L381.68 481.69 L383.2 481.64 L384.72 481.59 L386.24 481.54 L387.77 481.49 L389.29 481.43 L390.81 481.38 L392.34 481.33 L393.86 481.28 L395.38 481.24 L396.9 481.19 L398.42 481.14 L399.95 481.09 L401.47 481.04 L402.99 481 L404.51 480.95 L406.04 480.9 L407.56 480.86 L409.08 480.81 L410.61 480.77 L412.13 480.72 L413.65 480.68 L415.17 480.64 L416.69 480.59 L418.22 480.55 L419.74 480.51 L421.26 480.47 L422.78 480.42 L424.31 480.38 L425.83 480.34 L427.35 480.3 L428.88 480.26 L430.4 480.22 L431.92 480.18 L433.44 480.14 L434.96 480.1 L436.49 480.06 L438.01 480.02 L439.53 479.99 L441.05 479.95 L442.58 479.91 L444.1 479.87" fill="none" stroke="#333" stroke-width="1" stroke-dasharray="10 4"/>
<path d="M452.8 473.57 L507.4 473.57" fill="none" stroke="#333" stroke-width="1.1"/>
<path d="M78.7 720.2 L78.85 715.97 L79 711.83 L79.16 707.29 L79.31 701.73 L79.46 694.59 L79.61 687.15 L79.77 681.01 L79.92 677.06 L80.07 674.42 L80.22 672.67 L80.37 671.47 L80.53 670.45 L80.68 669.51 L80.83 668.8 L80.98 668.28 L81.14 667.91 L81.29 667.66 L81.44 667.51 L81.59 667.4 L81.75 667.33 L81.9 667.24 L82.05 667.13 L82.2 667.05 L82.35 666.97 L82.51 666.91 L82.66 666.86 L82.81 666.82 L82.96 666.78 L83.12 666.75 L83.27 666.73 L83.42 666.72 L83.57 666.71 L83.72 666.7 L83.88 666.7 L84.03 666.7 L84.18 666.7 L84.33 666.7 L84.49 666.7 L84.64 666.7 L84.79 666.7 L84.94 666.7 L85.09 666.7 L85.25 666.7 L85.4 666.7 L85.55 666.7 L85.7 666.7 L85.86 666.7 L86.01 666.7 L86.16 666.7 L86.31 666.7 L86.46 666.7 L86.62 666.7 L86.77 666.7 L86.92 666.7 L87.07 666.7 L87.23 666.7 L87.38 666.7 L87.53 666.7 L87.68 666.7 L87.84 666.7" fill="none" stroke="#222" stroke-width="1"/>
<path d="M84.18 666.7 L444.1 666.7" fill="none" stroke="#555" stroke-width="1.1"/>
<path d="M452.8 666.7 L507.4 666.7" fill="none" stroke="#555" stroke-width="1.1"/>
<path d="M78.7 720.2 L78.85 717.43 L79 714.55 L79.16 711.67 L79.31 708.91 L79.46 706.36 L79.61 704.15 L79.77 702.28 L79.92 700.65 L80.07 699.25 L80.22 698.05 L80.37 697.01 L80.53 696.12 L80.68 695.37 L80.83 694.75 L80.98 694.25 L81.14 693.85 L81.29 693.53 L81.44 693.28 L81.59 693.09 L81.75 692.93 L81.9 692.8 L82.05 692.68 L82.2 692.54 L82.35 692.38 L82.51 692.21 L82.66 692.06 L82.81 691.93 L82.96 691.81 L83.12 691.71 L83.27 691.63 L83.42 691.55 L83.57 691.49 L83.72 691.44 L83.88 691.4 L84.03 691.37 L84.18 691.35 L84.33 691.33 L84.49 691.32 L84.64 691.31 L84.79 691.31 L84.94 691.31 L85.09 691.31 L85.25 691.31 L85.4 691.31 L85.55 691.31 L85.7 691.31 L85.86 691.31 L86.01 691.31 L86.16 691.31 L86.31 691.31 L86.46 691.31 L86.62 691.31 L86.77 691.31 L86.92 691.31 L87.07 691.31 L87.23 691.31 L87.38 691.31 L87.53 691.31 L87.68 691.31 L87.84 691.31" fill="none" stroke="#222" stroke-width="1"/>
<path d="M78.7 720.2 L79 717.92 L79.31 715.58 L79.61 713.25 L79.92 710.97 L80.22 708.81 L80.53 706.83 L80.83 704.99 L81.14 703.26 L81.44 701.64 L81.75 700.17 L82.05 698.86 L82.35 697.73 L82.66 696.79 L82.96 695.99 L83.27 695.33 L83.57 694.77 L83.88 694.31 L84.18 693.91 L84.49 693.56 L84.79 693.23 L85.09 692.92 L85.4 692.61 L85.7 692.35 L86.01 692.13 L86.31 691.94 L86.62 691.79 L86.92 691.66 L87.23 691.55 L87.53 691.47 L87.84 691.41 L88.14 691.37 L88.44 691.34 L88.75 691.32 L89.05 691.31 L89.36 691.31 L89.66 691.31 L89.97 691.31 L90.27 691.31 L90.58 691.31 L90.88 691.31 L91.18 691.31 L91.49 691.31 L91.79 691.31 L92.1 691.31 L92.4 691.31 L92.71 691.31 L93.01 691.31 L93.32 691.31 L93.62 691.31 L93.93 691.31 L94.23 691.31 L94.53 691.31 L94.84 691.31 L95.14 691.31 L95.45 691.31 L95.75 691.31 L96.06 691.31 L96.36 691.31 L96.67 691.31 L96.97 691.31" fill="none" stroke="#d22" stroke-width="1"/>
<path d="M87.84 691.31 L127.12 691.31" fill="none" stroke="#c11" stroke-width="1.2"/>
<path d="M127.12 691.31 L444.1 691.31" fill="none" stroke="#555" stroke-width="1.1"/>
<path d="M452.8 691.31 L507.4 691.31" fill="none" stroke="#555" stroke-width="1.1"/>
<path d="M87.84 576.29V590.2" stroke="#999" stroke-width="0.9" fill="none"/>
<path d="M84.94 576.29h5.8M84.94 590.2h5.8" stroke="#777" stroke-width="1.5" fill="none"/>
<path d="M96.97 569.33V582.17" stroke="#999" stroke-width="0.9" fill="none"/>
<path d="M94.07 569.33h5.8M94.07 582.17h5.8" stroke="#777" stroke-width="1.5" fill="none"/>
<path d="M115.24 563.45V579.5" stroke="#999" stroke-width="0.9" fill="none"/>
<path d="M112.34 563.45h5.8M112.34 579.5h5.8" stroke="#777" stroke-width="1.5" fill="none"/>
<path d="M151.78 540.44V558.63" stroke="#999" stroke-width="0.9" fill="none"/>
<path d="M148.88 540.44h5.8M148.88 558.63h5.8" stroke="#777" stroke-width="1.5" fill="none"/>
<path d="M224.86 491.22V512.62" stroke="#999" stroke-width="0.9" fill="none"/>
<path d="M221.96 491.22h5.8M221.96 512.62h5.8" stroke="#777" stroke-width="1.5" fill="none"/>
<path d="M371.02 452.7V461.26" stroke="#999" stroke-width="0.9" fill="none"/>
<path d="M368.12 452.7h5.8M368.12 461.26h5.8" stroke="#777" stroke-width="1.5" fill="none"/>
<path d="M507.4 439.86V465.54" stroke="#999" stroke-width="0.9" fill="none"/>
<path d="M504.5 439.86h5.8M504.5 465.54h5.8" stroke="#777" stroke-width="1.5" fill="none"/>
<circle cx="87.84" cy="583.24" r="5.5" fill="#000"/>
<circle cx="96.97" cy="575.75" r="5.5" fill="#000"/>
<circle cx="115.24" cy="571.47" r="5.5" fill="#000"/>
<circle cx="151.78" cy="549.54" r="5.5" fill="#000"/>
<circle cx="224.86" cy="501.92" r="5.5" fill="#000"/>
<circle cx="371.02" cy="456.98" r="5.5" fill="#000"/>
<circle cx="507.4" cy="452.7" r="5.5" fill="#000"/>
<polygon points="87.84,661.33 89.48,665.16 93.64,665.55 90.5,668.3 91.42,672.37 87.84,670.24 84.25,672.37 85.17,668.3 82.03,665.55 86.19,665.16" fill="none" stroke="#111" stroke-width="1.1" stroke-linejoin="miter"/>
<polygon points="96.97,661.33 98.62,665.16 102.77,665.55 99.64,668.3 100.56,672.37 96.97,670.24 93.38,672.37 94.3,668.3 91.17,665.55 95.32,665.16" fill="none" stroke="#111" stroke-width="1.1" stroke-linejoin="miter"/>
<polygon points="115.24,661.33 116.89,665.16 121.04,665.55 117.91,668.3 118.83,672.37 115.24,670.24 111.65,672.37 112.57,668.3 109.44,665.55 113.59,665.16" fill="none" stroke="#111" stroke-width="1.1" stroke-linejoin="miter"/>
<polygon points="151.78,661.33 153.43,665.16 157.58,665.55 154.45,668.3 155.37,672.37 151.78,670.24 148.19,672.37 149.11,668.3 145.98,665.55 150.13,665.16" fill="none" stroke="#111" stroke-width="1.1" stroke-linejoin="miter"/>
<polygon points="224.86,662.12 226.27,665.39 229.81,665.72 227.13,668.06 227.92,671.53 224.86,669.72 221.8,671.53 222.59,668.06 219.91,665.72 223.45,665.39" fill="none" stroke="#111" stroke-width="1.1" stroke-linejoin="miter"/>
<polygon points="371.02,661.33 372.67,665.16 376.82,665.55 373.69,668.3 374.61,672.37 371.02,670.24 367.43,672.37 368.35,668.3 365.22,665.55 369.37,665.16" fill="none" stroke="#111" stroke-width="1.1" stroke-linejoin="miter"/>
<polygon points="507.4,661.33 509.05,665.16 513.2,665.55 510.07,668.3 510.99,672.37 507.4,670.24 503.81,672.37 504.73,668.3 501.6,665.55 505.75,665.16" fill="none" stroke="#111" stroke-width="1.1" stroke-linejoin="miter"/>
<path d="M83.04 686.51h9.6v9.6h-9.6zM92.17 686.51h9.6v9.6h-9.6zM110.44 686.51h9.6v9.6h-9.6zM146.98 686.51h9.6v9.6h-9.6zM220.06 686.51h9.6v9.6h-9.6zM366.22 686.51h9.6v9.6h-9.6zM502.6 686.51h9.6v9.6h-9.6z" fill="#000"/>
<circle cx="78.7" cy="720.2" r="5.4" fill="#000"/>
<rect x="73.9" y="715.4" width="9.6" height="9.6" fill="#000"/>
<path d="M78.7 747v-5.2M78.7 426.4v5.2M170.05 747v-5.2M170.05 426.4v5.2M261.4 747v-5.2M261.4 426.4v5.2M352.75 747v-5.2M352.75 426.4v5.2M483.4 747v-5.2M483.4 426.4v5.2M124.38 747v-3M124.38 426.4v3M215.73 747v-3M215.73 426.4v3M307.07 747v-3M307.07 426.4v3M398.42 747v-3M398.42 426.4v3M513.4 747v-3M513.4 426.4v3M69.7 720.2h5.2M543.5 720.2h-5.2M69.7 666.7h5.2M543.5 666.7h-5.2M69.7 613.2h5.2M543.5 613.2h-5.2M69.7 559.7h5.2M543.5 559.7h-5.2M69.7 506.2h5.2M543.5 506.2h-5.2M69.7 452.7h5.2M543.5 452.7h-5.2M69.7 693.45h3M543.5 693.45h-3M69.7 639.95h3M543.5 639.95h-3M69.7 586.45h3M543.5 586.45h-3M69.7 532.95h3M543.5 532.95h-3M69.7 479.45h3M543.5 479.45h-3" stroke="#1a1a1a" stroke-width="1.3" fill="none"/>
<rect x="69.7" y="426.4" width="473.8" height="320.6" fill="none" stroke="#1a1a1a" stroke-width="1.5"/>
<path d="M440.2 431.6l8.4 -10.4M448.8 431.6l8.4 -10.4" stroke="#1a1a1a" stroke-width="1.4" fill="none"/>
<path d="M440.2 752.2l8.4 -10.4M448.8 752.2l8.4 -10.4" stroke="#1a1a1a" stroke-width="1.4" fill="none"/>
<text class="tl" text-anchor="middle" transform="translate(78.7 763.6) scale(1 1.08)">0</text>
<text class="tl" text-anchor="middle" transform="translate(170.05 763.6) scale(1 1.08)">100</text>
<text class="tl" text-anchor="middle" transform="translate(261.4 763.6) scale(1 1.08)">200</text>
<text class="tl" text-anchor="middle" transform="translate(352.75 763.6) scale(1 1.08)">300</text>
<text class="tl" text-anchor="middle" transform="translate(483.4 763.6) scale(1 1.08)">1200</text>
<text class="tl" text-anchor="middle" transform="translate(543.4 763.6) scale(1 1.08)">1400</text>
<text class="tl" text-anchor="end" transform="translate(63.5 724.5) scale(1 1.08)">0.0</text>
<text class="tl" text-anchor="end" transform="translate(63.5 671) scale(1 1.08)">0.1</text>
<text class="tl" text-anchor="end" transform="translate(63.5 617.5) scale(1 1.08)">0.2</text>
<text class="tl" text-anchor="end" transform="translate(63.5 564) scale(1 1.08)">0.3</text>
<text class="tl" text-anchor="end" transform="translate(63.5 510.5) scale(1 1.08)">0.4</text>
<text class="tl" text-anchor="end" transform="translate(63.5 457) scale(1 1.08)">0.5</text>
<text class="at" text-anchor="middle" transform="translate(285.7 785.8) scale(1 1.08)">Time (min)</text>
<text class="yt" text-anchor="middle" transform="translate(30.4 595.7) rotate(-90)" x="0" y="4.7">q (mmol Mo/g FHY)</text>
<text x="285.4" y="824.6" class="cap" text-anchor="middle">(<tspan font-weight="bold">c</tspan>)</text>
<circle cx="408.3" cy="547.1" r="5.4" fill="#000"/>
<text class="lg" style="font-size:14.1px" transform="translate(428.3 551.8) scale(1 1.08)">Cp=0.1g/L</text>
<polygon points="408.3,559.41 409.9,563.11 413.91,563.48 410.88,566.15 411.77,570.08 408.3,568.02 404.83,570.08 405.72,566.15 402.69,563.48 406.7,563.11" fill="none" stroke="#111" stroke-width="1.1" stroke-linejoin="miter"/>
<text class="lg" style="font-size:14.1px" transform="translate(428.3 569.1) scale(1 1.08)">Cp=1g/L</text>
<rect x="403.5" y="576.5" width="9.6" height="9.6" fill="#000"/>
<text class="lg" style="font-size:14.1px" transform="translate(428.3 585.8) scale(1 1.08)">Cp=2g/L</text>
<path d="M392.8 599.2h31" stroke="#f6c8c8" stroke-width="1" fill="none"/>
<text class="lg" style="font-size:14.1px" transform="translate(428.3 603.4) scale(1 1.08)">PFO</text>
<path d="M392.8 616.5h31" stroke="#666" stroke-width="1.2" fill="none"/>
<text class="lg" style="font-size:14.1px" transform="translate(428.3 620.7) scale(1 1.08)">PSO</text>
<path d="M696.1 721.2 L699.53 476.95 L702.95 467.18 L706.38 463.75 L709.8 462 L713.23 460.94 L716.66 460.22 L720.08 459.71 L723.51 459.33 L726.93 459.03 L730.36 458.79 L733.79 458.59 L737.21 458.42 L740.64 458.29 L744.06 458.17 L747.49 458.06 L750.92 457.97 L754.34 457.89 L757.77 457.82 L761.19 457.76 L764.62 457.7 L771.47 457.6 L778.32 457.52 L785.18 457.45 L792.03 457.39 L798.88 457.33" fill="none" stroke="#222" stroke-width="0.9" />
<path d="M696.1 721.2 L699.53 501.83 L702.95 481.88 L706.38 474.4 L709.8 470.49 L713.23 468.08 L716.66 466.44 L720.08 465.26 L723.51 464.37 L726.93 463.67 L730.36 463.11 L733.79 462.65 L737.21 462.27 L740.64 461.94 L744.06 461.66 L747.49 461.41 L750.92 461.2 L754.34 461.01 L757.77 460.84 L761.19 460.69 L764.62 460.56" fill="none" stroke="#333" stroke-width="0.9" stroke-dasharray="5 2"/>
<path d="M696.1 721.2 L699.53 555.45 L702.95 517.78 L706.38 501.11 L709.8 491.7 L713.23 485.66 L716.66 481.45 L720.08 478.36 L723.51 475.98 L726.93 474.1 L730.36 472.58" fill="none" stroke="#333" stroke-width="0.9" />
<path d="M730.36 472.58 L733.79 471.2 L737.21 470.04 L740.64 469.02 L744.06 468.13 L747.49 467.34 L750.92 466.64 L754.34 466 L757.77 465.42 L761.19 464.88 L764.62 464.39" fill="none" stroke="#222" stroke-width="1" stroke-dasharray="4 2.5"/>
<path d="M696.1 721.2 L699.53 592 L702.95 525.88 L706.38 492.05 L709.8 474.74 L713.23 465.88 L716.66 461.35 L720.08 459.03 L723.51 457.84 L726.93 457.24 L730.36 456.93 L733.79 456.77 L737.21 456.69 L740.64 456.64 L744.06 456.62 L747.49 456.61 L750.92 456.61 L754.34 456.6 L757.77 456.6 L761.19 456.6 L764.62 456.6" fill="none" stroke="#e22" stroke-width="0.9" />
<path d="M696.1 721.2 L699.53 601.82 L702.95 536.3 L706.38 500.34 L709.8 480.6 L713.23 469.77 L716.66 463.83 L720.08 460.57 L723.51 458.78 L726.93 457.8 L730.36 457.26 L733.79 456.96 L737.21 456.8 L740.64 456.71 L744.06 456.66 L747.49 456.63 L750.92 456.62 L754.34 456.61 L757.77 456.61 L761.19 456.6 L764.62 456.6" fill="none" stroke="#e22" stroke-width="0.9" stroke-dasharray="3 1.5"/>
<path d="M696.1 721.2 L699.53 651.25 L702.95 599.94 L706.38 562.31 L709.8 534.71 L713.23 514.46 L716.66 499.61 L720.08 488.72 L723.51 480.74 L726.93 474.88 L730.36 470.58 L733.79 467.43 L737.21 465.12 L740.64 463.42 L744.06 462.18 L747.49 461.27 L750.92 460.6 L754.34 460.11 L757.77 459.75 L761.19 459.49 L764.62 459.29 L771.47 459.05 L778.32 458.91" fill="none" stroke="#e22" stroke-width="0.9" stroke-dasharray="4 2"/>
<path d="M764.62 459.03 L1038.7 459.03" fill="none" stroke="#aaa" stroke-width="1"/>
<path d="M764.62 463.89 L833.14 460.92 L1038.7 459.84" fill="none" stroke="#333" stroke-width="1" stroke-dasharray="9 6"/>
<path d="M798.88 457.41 L1038.7 457.41" fill="none" stroke="#333" stroke-width="1"/>
<path d="M764.62 456.6 L929.07 456.6" fill="none" stroke="#e22" stroke-width="1"/>
<path d="M1045.9 457.41 L1101.1 457.41" fill="none" stroke="#333" stroke-width="1"/>
<path d="M1045.9 459.3 L1101.1 459.3" fill="none" stroke="#bbb" stroke-width="1"/>
<path d="M730.36 443.1V483.6" stroke="#333" stroke-width="0.9" fill="none"/>
<path d="M727.61 443.1h5.5M727.61 483.6h5.5" stroke="#333" stroke-width="1.5" fill="none"/>
<path d="M764.62 443.1V475.5" stroke="#333" stroke-width="0.9" fill="none"/>
<path d="M761.87 443.1h5.5M761.87 475.5h5.5" stroke="#333" stroke-width="1.5" fill="none"/>
<path d="M833.14 443.1V472.8" stroke="#333" stroke-width="0.9" fill="none"/>
<path d="M830.39 443.1h5.5M830.39 472.8h5.5" stroke="#333" stroke-width="1.5" fill="none"/>
<path d="M970.18 443.1V471.45" stroke="#333" stroke-width="0.9" fill="none"/>
<path d="M967.43 443.1h5.5M967.43 471.45h5.5" stroke="#333" stroke-width="1.5" fill="none"/>
<path d="M1101.1 441.75V470.64" stroke="#333" stroke-width="0.9" fill="none"/>
<path d="M1098.35 441.75h5.5M1098.35 470.64h5.5" stroke="#333" stroke-width="1.5" fill="none"/>
<path d="M730.36 444.45V482.25" stroke="#333" stroke-width="0.9" fill="none"/>
<path d="M727.61 444.45h5.5M727.61 482.25h5.5" stroke="#555" stroke-width="1.5" fill="none"/>
<path d="M764.62 444.45V470.1" stroke="#333" stroke-width="0.9" fill="none"/>
<path d="M761.87 444.45h5.5M761.87 470.1h5.5" stroke="#555" stroke-width="1.5" fill="none"/>
<path d="M833.14 444.45V471.18" stroke="#333" stroke-width="0.9" fill="none"/>
<path d="M830.39 444.45h5.5M830.39 471.18h5.5" stroke="#555" stroke-width="1.5" fill="none"/>
<path d="M970.18 444.45V468.75" stroke="#333" stroke-width="0.9" fill="none"/>
<path d="M967.43 444.45h5.5M967.43 468.75h5.5" stroke="#555" stroke-width="1.5" fill="none"/>
<path d="M1101.1 443.1V468.75" stroke="#333" stroke-width="0.9" fill="none"/>
<path d="M1098.35 443.1h5.5M1098.35 468.75h5.5" stroke="#555" stroke-width="1.5" fill="none"/>
<circle cx="730.36" cy="470.64" r="5.3" fill="#000"/>
<circle cx="764.62" cy="463.35" r="5.3" fill="#000"/>
<circle cx="833.14" cy="460.65" r="5.3" fill="#000"/>
<circle cx="970.18" cy="458.76" r="5.3" fill="#000"/>
<circle cx="1101.1" cy="455.25" r="5.3" fill="#000"/>
<polygon points="730.36,452.02 731.77,455.29 735.31,455.62 732.63,457.96 733.42,461.43 730.36,459.62 727.3,461.43 728.09,457.96 725.41,455.62 728.95,455.29" fill="#000" stroke="#111" stroke-width="0.9" stroke-linejoin="miter"/>
<polygon points="764.62,452.02 766.03,455.29 769.57,455.62 766.89,457.96 767.68,461.43 764.62,459.62 761.56,461.43 762.35,457.96 759.67,455.62 763.21,455.29" fill="#000" stroke="#111" stroke-width="0.9" stroke-linejoin="miter"/>
<polygon points="833.14,452.02 834.55,455.29 838.09,455.62 835.41,457.96 836.2,461.43 833.14,459.62 830.08,461.43 830.87,457.96 828.19,455.62 831.73,455.29" fill="#000" stroke="#111" stroke-width="0.9" stroke-linejoin="miter"/>
<polygon points="970.18,452.02 971.59,455.29 975.13,455.62 972.45,457.96 973.24,461.43 970.18,459.62 967.12,461.43 967.91,457.96 965.23,455.62 968.77,455.29" fill="#000" stroke="#111" stroke-width="0.9" stroke-linejoin="miter"/>
<polygon points="1101.1,453.37 1102.51,456.64 1106.05,456.97 1103.37,459.31 1104.16,462.78 1101.1,460.97 1098.04,462.78 1098.83,459.31 1096.15,456.97 1099.69,456.64" fill="#000" stroke="#111" stroke-width="0.9" stroke-linejoin="miter"/>
<rect x="725.66" y="451.9" width="9.4" height="9.4" fill="#000"/>
<rect x="759.92" y="452.44" width="9.4" height="9.4" fill="#000"/>
<rect x="828.44" y="452.44" width="9.4" height="9.4" fill="#000"/>
<rect x="965.48" y="452.44" width="9.4" height="9.4" fill="#000"/>
<rect x="1096.4" y="452.44" width="9.4" height="9.4" fill="#000"/>
<circle cx="696.1" cy="721.2" r="5.3" fill="#000"/>
<rect x="691.4" y="716.5" width="9.4" height="9.4" fill="#000"/>
<path d="M696.1 747.8v-5.2M696.1 424.2v5.2M764.62 747.8v-5.2M764.62 424.2v5.2M833.14 747.8v-5.2M833.14 424.2v5.2M901.66 747.8v-5.2M901.66 424.2v5.2M970.18 747.8v-5.2M970.18 424.2v5.2M1077.1 747.8v-5.2M1077.1 424.2v5.2M730.36 747.8v-3M730.36 424.2v3M798.88 747.8v-3M798.88 424.2v3M867.4 747.8v-3M867.4 424.2v3M935.92 747.8v-3M935.92 424.2v3M1004.44 747.8v-3M1004.44 424.2v3M1107.1 747.8v-3M1107.1 424.2v3M662 721.2h5.2M1137.6 721.2h-5.2M662 667.2h5.2M1137.6 667.2h-5.2M662 613.2h5.2M1137.6 613.2h-5.2M662 559.2h5.2M1137.6 559.2h-5.2M662 505.2h5.2M1137.6 505.2h-5.2M662 451.2h5.2M1137.6 451.2h-5.2M662 694.2h3M1137.6 694.2h-3M662 640.2h3M1137.6 640.2h-3M662 586.2h3M1137.6 586.2h-3M662 532.2h3M1137.6 532.2h-3M662 478.2h3M1137.6 478.2h-3" stroke="#1a1a1a" stroke-width="1.3" fill="none"/>
<rect x="662" y="424.2" width="475.6" height="323.6" fill="none" stroke="#1a1a1a" stroke-width="1.5"/>
<path d="M1033.9 429.4l8.4 -10.4M1042.5 429.4l8.4 -10.4" stroke="#1a1a1a" stroke-width="1.4" fill="none"/>
<path d="M1033.9 753l8.4 -10.4M1042.5 753l8.4 -10.4" stroke="#1a1a1a" stroke-width="1.4" fill="none"/>
<text class="tl" text-anchor="middle" transform="translate(696.1 764.8) scale(1 1.08)">0</text>
<text class="tl" text-anchor="middle" transform="translate(764.62 764.8) scale(1 1.08)">20</text>
<text class="tl" text-anchor="middle" transform="translate(833.14 764.8) scale(1 1.08)">40</text>
<text class="tl" text-anchor="middle" transform="translate(901.66 764.8) scale(1 1.08)">60</text>
<text class="tl" text-anchor="middle" transform="translate(970.18 764.8) scale(1 1.08)">80</text>
<text class="tl" text-anchor="middle" transform="translate(1077.1 764.8) scale(1 1.08)">1200</text>
<text class="tl" text-anchor="middle" transform="translate(1137.1 764.8) scale(1 1.08)">1400</text>
<text class="tl" text-anchor="end" transform="translate(656.3 725.5) scale(1 1.08)">0.0</text>
<text class="tl" text-anchor="end" transform="translate(656.3 671.5) scale(1 1.08)">0.2</text>
<text class="tl" text-anchor="end" transform="translate(656.3 617.5) scale(1 1.08)">0.4</text>
<text class="tl" text-anchor="end" transform="translate(656.3 563.5) scale(1 1.08)">0.6</text>
<text class="tl" text-anchor="end" transform="translate(656.3 509.5) scale(1 1.08)">0.8</text>
<text class="tl" text-anchor="end" transform="translate(656.3 455.5) scale(1 1.08)">1.0</text>
<text class="at" text-anchor="middle" transform="translate(889.3 789.1) scale(1 1.08)">Time (min)</text>
<text class="yt" text-anchor="middle" transform="translate(624.1 595.2) rotate(-90)" x="0" y="4.7">q (mmol V/g FHY)</text>
<text x="883.6" y="824.6" class="cap" text-anchor="middle">(<tspan font-weight="bold">d</tspan>)</text>
<circle cx="1010.8" cy="553.9" r="5.4" fill="#000"/>
<text class="lg" style="font-size:14.1px" transform="translate(1031.3 558.4) scale(1 1.08)">Cp=0.1g/L</text>
<polygon points="1010.8,566.01 1012.4,569.71 1016.41,570.08 1013.38,572.75 1014.27,576.68 1010.8,574.62 1007.33,576.68 1008.22,572.75 1005.19,570.08 1009.2,569.71" fill="none" stroke="#111" stroke-width="1.1" stroke-linejoin="miter"/>
<text class="lg" style="font-size:14.1px" transform="translate(1031.3 575.9) scale(1 1.08)">Cp=1g/L</text>
<rect x="1006" y="583.7" width="9.6" height="9.6" fill="#000"/>
<text class="lg" style="font-size:14.1px" transform="translate(1031.3 593) scale(1 1.08)">Cp=2g/L</text>
<path d="M995.3 606.3h31" stroke="#f33" stroke-width="1" fill="none"/>
<text class="lg" style="font-size:14.1px" transform="translate(1031.3 610.5) scale(1 1.08)">PFO</text>
<path d="M995.3 623.4h31" stroke="#666" stroke-width="1.2" fill="none"/>
<text class="lg" style="font-size:14.1px" transform="translate(1031.3 627.2) scale(1 1.08)">PSO</text>
</svg></body></html>
